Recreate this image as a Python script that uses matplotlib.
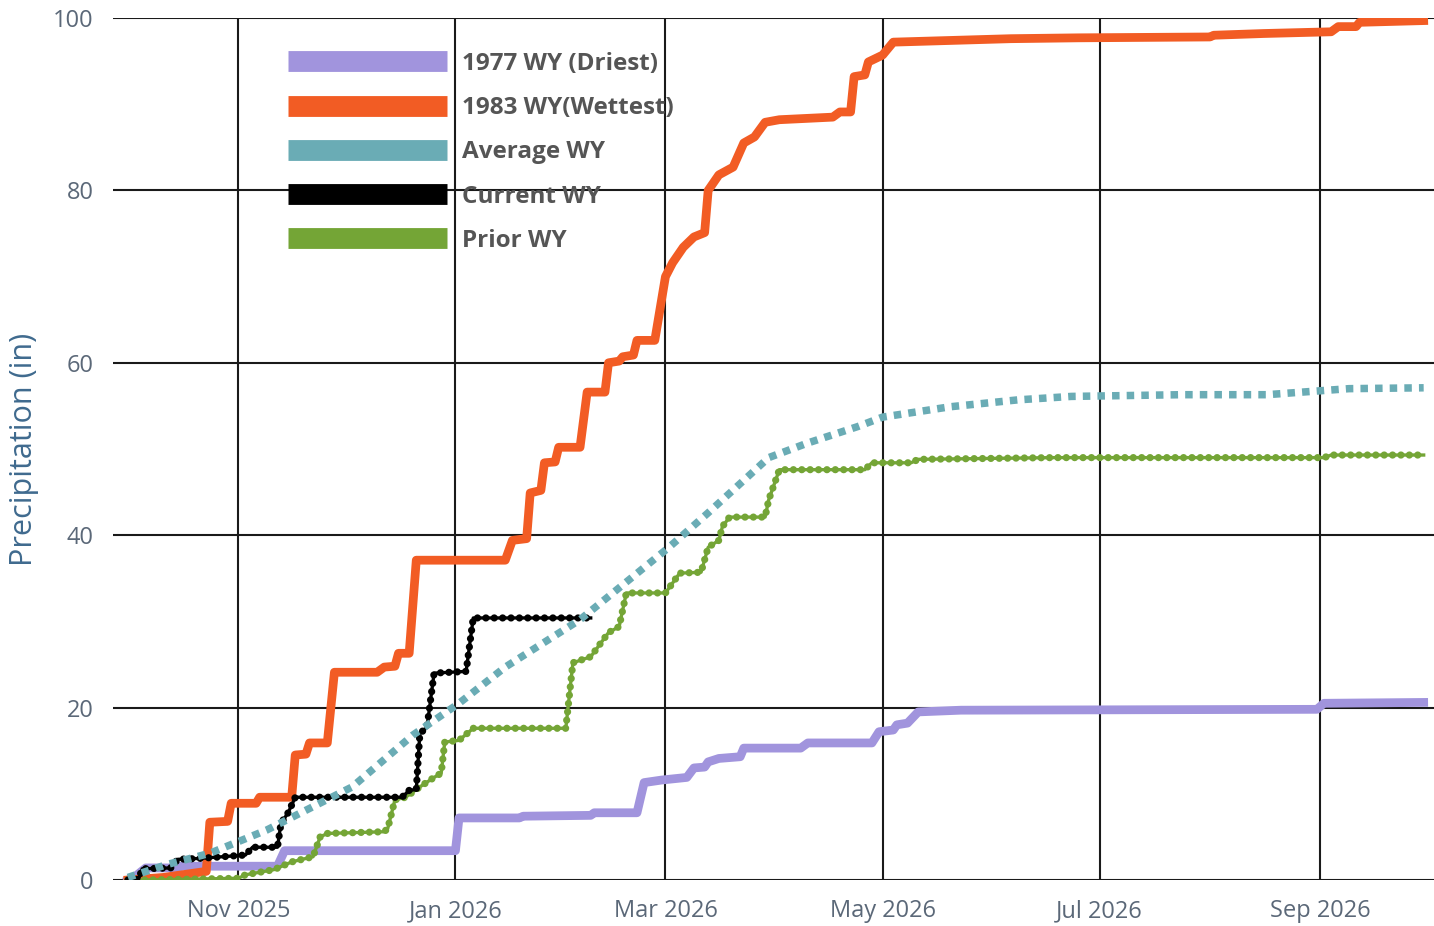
import pandas as pd
import matplotlib
matplotlib.use("Agg")
import matplotlib.pyplot as plt
import matplotlib.dates as mdates
from matplotlib.lines import Line2D

plt.rcParams['font.family'] = ['Open Sans', 'DejaVu Sans']

# water year starts Oct 1 2025; x values are days into the water year
wy_start = pd.Timestamp("2025-10-01")

driest_day = [0, 2, 5, 14, 15, 42, 44, 92, 93, 110, 111, 130, 131, 143, 145, 150, 157, 159, 162,
              163, 166, 172, 173, 189, 191, 209, 211, 215, 216, 219, 222, 234, 334, 336, 364]
driest_val = [0, 0.4, 1.4, 1.4, 1.6, 1.6, 3.4, 3.4, 7.2, 7.2, 7.4, 7.5, 7.8, 7.8, 11.3, 11.6, 11.9, 13.0, 13.1,
              13.7, 14.1, 14.3, 15.3, 15.3, 15.9, 15.9, 17.2, 17.4, 18.0, 18.2, 19.5, 19.7, 19.8, 20.5, 20.6]

wettest_day = [0, 10, 22, 23, 28, 29, 36, 37, 46, 47, 50, 51, 56, 58, 70, 72, 75, 76, 79, 81, 106, 108,
               112, 113, 116, 117, 120, 121, 127, 129, 134, 135, 138, 139, 142, 143, 148, 151, 153, 156,
               159, 162, 163, 166, 170, 173, 176, 179, 183, 198, 200, 203, 204, 207, 208, 212, 215, 248,
               267, 304, 305, 319, 338, 340, 345, 346, 364]
wettest_val = [0, 0.3, 1.0, 6.7, 6.8, 8.9, 8.9, 9.6, 9.6, 14.5, 14.6, 15.9, 15.9, 24.1, 24.1, 24.7, 24.8,
               26.3, 26.3, 37.1, 37.1, 39.4, 39.6, 44.9, 45.2, 48.4, 48.5, 50.2, 50.2, 56.6, 56.6, 60.0,
               60.2, 60.7, 60.9, 62.6, 62.6, 70.0, 71.6, 73.4, 74.6, 75.1, 80.0, 81.8, 82.7, 85.5, 86.2,
               87.9, 88.2, 88.5, 89.1, 89.1, 93.2, 93.4, 94.9, 95.7, 97.2, 97.6, 97.7, 97.8, 98.0, 98.2,
               98.4, 99.0, 99.0, 99.5, 99.7]

average_day = [0, 11, 23, 39, 63, 80, 93, 106, 127, 152, 163, 180, 191, 205, 212, 231, 250, 265,
               296, 320, 343, 364]
average_val = [0.3, 1.8, 3.1, 5.8, 10.8, 16.8, 20.5, 24.7, 30.2, 38.6, 42.6, 49.0, 50.7, 52.6, 53.7,
               54.9, 55.7, 56.1, 56.3, 56.3, 57.0, 57.1]

current_day = [0, 3, 4, 12, 14, 20, 33, 35, 42, 43, 45, 47, 77, 79, 81, 82, 84, 86, 95, 97, 130]
current_val = [0, 0.1, 1.3, 1.4, 2.4, 2.5, 2.9, 3.8, 3.8, 6.6, 7.8, 9.6, 9.6, 10.4, 10.5, 17.0, 17.7,
               24.0, 24.2, 30.4, 30.4]

prior_day = [0, 5, 31, 33, 41, 46, 52, 54, 56, 72, 73, 75, 78, 82, 86, 88, 89, 93, 97, 123, 125, 130,
             135, 138, 140, 151, 155, 161, 163, 166, 167, 169, 179, 180, 183, 207, 209, 220, 222, 260,
             336, 338, 364]
prior_val = [0, 0, 0.2, 0.6, 1.2, 2.1, 2.7, 5.0, 5.4, 5.6, 6.0, 9.3, 9.6, 10.8, 11.9, 12.4, 16.0, 16.2,
             17.6, 17.6, 25.2, 25.9, 28.7, 29.4, 33.3, 33.3, 35.6, 35.7, 38.6, 39.4, 41.0, 42.1, 42.1,
             44.1, 47.6, 47.6, 48.4, 48.4, 48.8, 49.0, 49.0, 49.3, 49.3]

labels = ["1977 WY (Driest)", "1983 WY(Wettest)", "Average WY", "Current WY", "Prior WY"]
colors = ["#a194dd", "#f25c24", "#6aacb5", "#000000", "#74a536"]


def to_dates(days):
    return wy_start + pd.to_timedelta(days, unit="D")


fig = plt.figure(figsize=(14.34, 9.26), dpi=100)
ax = fig.add_axes([113 / 1434, 46 / 926, 1 - 113 / 1434, 862 / 926])

ax.plot(to_dates(driest_day), driest_val, color=colors[0], lw=6.3, solid_joinstyle="round", zorder=3)
ax.plot(to_dates(wettest_day), wettest_val, color=colors[1], lw=6.3, solid_joinstyle="round", zorder=3)

# prior and current: line with round dots on top
for d, v, c in [(prior_day, prior_val, colors[4]), (current_day, current_val, colors[3])]:
    ax.plot(to_dates(d), v, color=c, lw=2.4, zorder=4)
    ax.plot(to_dates(d), v, color=c, lw=5.2, linestyle=(0, (0.01, 1.15)),
            dash_capstyle="round", zorder=4)

ax.plot(to_dates(average_day), average_val, color=colors[2], lw=5.4,
        linestyle=(0, (1.0, 0.95)), dash_capstyle="butt", zorder=5)

ax.set_ylim(0, 100)
ax.set_xlim(wy_start - pd.Timedelta(days=4.2), wy_start + pd.Timedelta(days=366.9))

ax.xaxis.set_major_locator(mdates.MonthLocator(bymonth=[1, 3, 5, 7, 9, 11]))
ax.xaxis.set_major_formatter(mdates.DateFormatter("%b %Y"))
ax.set_yticks([0, 20, 40, 60, 80, 100])
ax.grid(True, color="#1a1a1a", lw=1.5)
ax.set_axisbelow(True)
for s in ax.spines.values():
    s.set_visible(False)
ax.tick_params(length=0, labelsize=17, labelcolor="#5b6878")
ax.tick_params(axis="x", pad=14)
ax.tick_params(axis="y", pad=14)

# y label placed by hand so it stays inside the figure
fig.text(24 / 1434, 1 - 449 / 926, "Precipitation (in)", rotation=90, fontsize=22,
         color="#3f6a8e", ha="center", va="center")

handles = [Line2D([0], [0], color=c, lw=15, solid_capstyle="butt") for c in colors]
leg = fig.legend(handles, labels, loc="upper left", bbox_to_anchor=(288 / 1434, 1 - 52 / 926),
                 frameon=False, handlelength=6.55, handletextpad=0.62,
                 labelspacing=0.83, borderpad=0, borderaxespad=0,
                 prop={"weight": "bold", "size": 17.5})
for t in leg.get_texts():
    t.set_color("#555555")

fig.savefig("out.png", dpi=100)
